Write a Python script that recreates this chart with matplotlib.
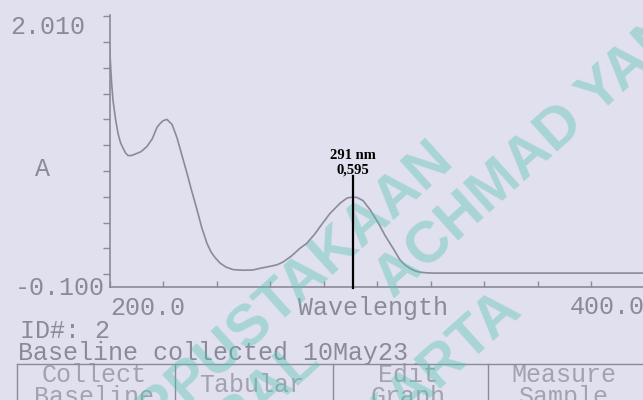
import numpy as np
import matplotlib
matplotlib.use('Agg')
from matplotlib import pyplot as plt
from matplotlib.lines import Line2D
import matplotlib.transforms as mtransforms

W, H = 643, 400

# spectrum
wavelength = [200.0, 200.4, 200.8, 201.3, 202.2, 203.2, 204.1, 205.0, 206.0, 206.9,
              208.2, 209.5, 211.8, 214.0, 216.0, 217.8, 219.0, 220.0, 221.5, 223.4,
              225.2, 227.1, 229.0, 230.8, 232.7, 234.5, 236.4, 238.0, 239.4, 241.3,
              243.5, 246.2, 250.0, 253.6, 256.3, 259.5, 262.6, 264.9, 268.0, 271.2,
              273.8, 276.7, 279.5, 282.4, 284.3, 286.2, 288.8, 290.0, 291.0, 292.5,
              294.8, 297.4, 300.4, 303.0, 306.0, 308.6, 310.5, 312.3, 314.2, 316.1,
              318.5, 320.9, 330.0, 340.0, 350.0, 360.0, 370.0, 380.0, 390.0, 400.0]
absorbance = [1.79, 1.62, 1.48, 1.35, 1.21, 1.09, 1.02, 0.98, 0.94, 0.92,
              0.92, 0.93, 0.95, 0.99, 1.05, 1.14, 1.17, 1.19, 1.20, 1.16,
              1.06, 0.92, 0.78, 0.64, 0.50, 0.36, 0.24, 0.17, 0.13, 0.086,
              0.055, 0.035, 0.030, 0.032, 0.045, 0.058, 0.072, 0.094, 0.14, 0.20,
              0.24, 0.31, 0.39, 0.47, 0.51, 0.55, 0.59, 0.595, 0.597, 0.595,
              0.57, 0.50, 0.40, 0.30, 0.20, 0.11, 0.07, 0.045, 0.025, 0.015,
              0.010, 0.008, 0.008, 0.008, 0.008, 0.008, 0.008, 0.008, 0.008, 0.008]

peak_nm = 291
peak_abs = 0.595

x_ticks = list(range(200, 401, 20))
y_ticks = [0.0, 0.2, 0.4, 0.6, 0.8, 1.0, 1.2, 1.4, 1.6, 1.8, 2.0]
y_max_label = '2.010'
y_min_label = '-0.100'
x_min_label = '200.0'
x_max_label = '400.0'
x_title = 'Wavelength'
y_title = 'A'
id_text = 'ID#: 2'
status_text = 'Baseline collected 10May23'
buttons = [['Collect', 'Baseline'], ['Tabular'], ['Edit', 'Graph'], ['Measure', 'Sample']]
button_edges = [17, 175, 333, 488, 643]

bg = '#e0e0ee'
fg = '#8a8a98'
fg_light = '#a2a2b0'
mono = ['Liberation Mono', 'DejaVu Sans Mono']


def fx(x):
    return x / W


def fy(y):
    return 1 - y / H


fig = plt.figure(figsize=(W / 100, H / 100), dpi=100, facecolor=bg)
ax = fig.add_axes([fx(109.5), fy(287), 535 / W, 272 / H])
ax.set_facecolor('none')

ax.plot(wavelength, absorbance, color=fg, lw=1.2, zorder=2)
ax.set_xlim(200, 400)
ax.set_ylim(-0.1, 2.01)
for s in ['top', 'right']:
    ax.spines[s].set_visible(False)
for s in ['left', 'bottom']:
    ax.spines[s].set_color(fg)
    ax.spines[s].set_linewidth(1.2)
ax.set_xticks(x_ticks)
ax.set_yticks(y_ticks)
ax.tick_params(axis='x', direction='in', length=4.5, width=1.0, color=fg, labelbottom=False)
ax.tick_params(axis='y', direction='out', length=5, width=1.0, color=fg, labelleft=False)


def screen(x, y, s, ha='left', color=fg):
    ax.text(fx(x), fy(y), s, transform=fig.transFigure, ha=ha, va='baseline',
            family=mono, fontsize=18, color=color, zorder=1, clip_on=False)


screen(10, 34, y_max_label)
screen(15, 295, y_min_label)
screen(35, 176, y_title)
screen(110, 315, x_min_label)
screen(298, 315, x_title)
screen(645, 314, x_max_label, ha='right')
screen(20, 338, id_text)
screen(18, 360, status_text)

# soft-key row
ax.add_line(Line2D([fx(17), 1], [fy(364), fy(364)], transform=fig.transFigure,
                   color=fg, lw=1.0, clip_on=False))
for xb in button_edges[:-1]:
    ax.add_line(Line2D([fx(xb), fx(xb)], [fy(364), 0], transform=fig.transFigure,
                       color=fg, lw=1.0, clip_on=False))
for i, lines in enumerate(buttons):
    cx = (button_edges[i] + button_edges[i + 1]) / 2 - 2
    if len(lines) == 1:
        screen(cx, 392, lines[0], ha='center', color=fg_light)
    else:
        screen(cx, 382, lines[0], ha='center', color=fg_light)
        screen(cx, 404, lines[1], ha='center', color=fg_light)

# library watermark
wm = dict(transform=fig.transFigure, rotation=42, rotation_mode='anchor', va='center',
          family=['Liberation Sans', 'DejaVu Sans'], fontweight='bold', fontsize=42,
          color='#55c4b2', alpha=0.4, zorder=3, clip_on=False)
ax.text(fx(445), fy(151), 'PERPUSTAKAAN', ha='right', **wm)
ax.text(fx(312), fy(352), 'JENDERAL', ha='right', **wm)
ax.text(fx(384), fy(288), 'ACHMAD YANI', ha='left', **wm)
ax.text(fx(514), fy(302), 'YOGYAKARTA', ha='right', **wm)

# peak marker
ax.plot([peak_nm, peak_nm], [-0.11, 0.76], color='black', lw=1.6, zorder=5, clip_on=False)
blend = mtransforms.blended_transform_factory(ax.transData, fig.transFigure)
serif = ['Liberation Serif', 'DejaVu Serif']
ax.text(peak_nm, fy(159), f'{peak_nm} nm', transform=blend, ha='center', va='baseline',
        family=serif, fontweight='bold', fontsize=10.5, color='black', zorder=6)
ax.text(peak_nm, fy(174), f'{peak_abs:.3f}'.replace('.', ','), transform=blend, ha='center',
        va='baseline', family=serif, fontweight='bold', fontsize=10.5, color='black', zorder=6)

fig.savefig('out.png', dpi=100, facecolor=bg)
